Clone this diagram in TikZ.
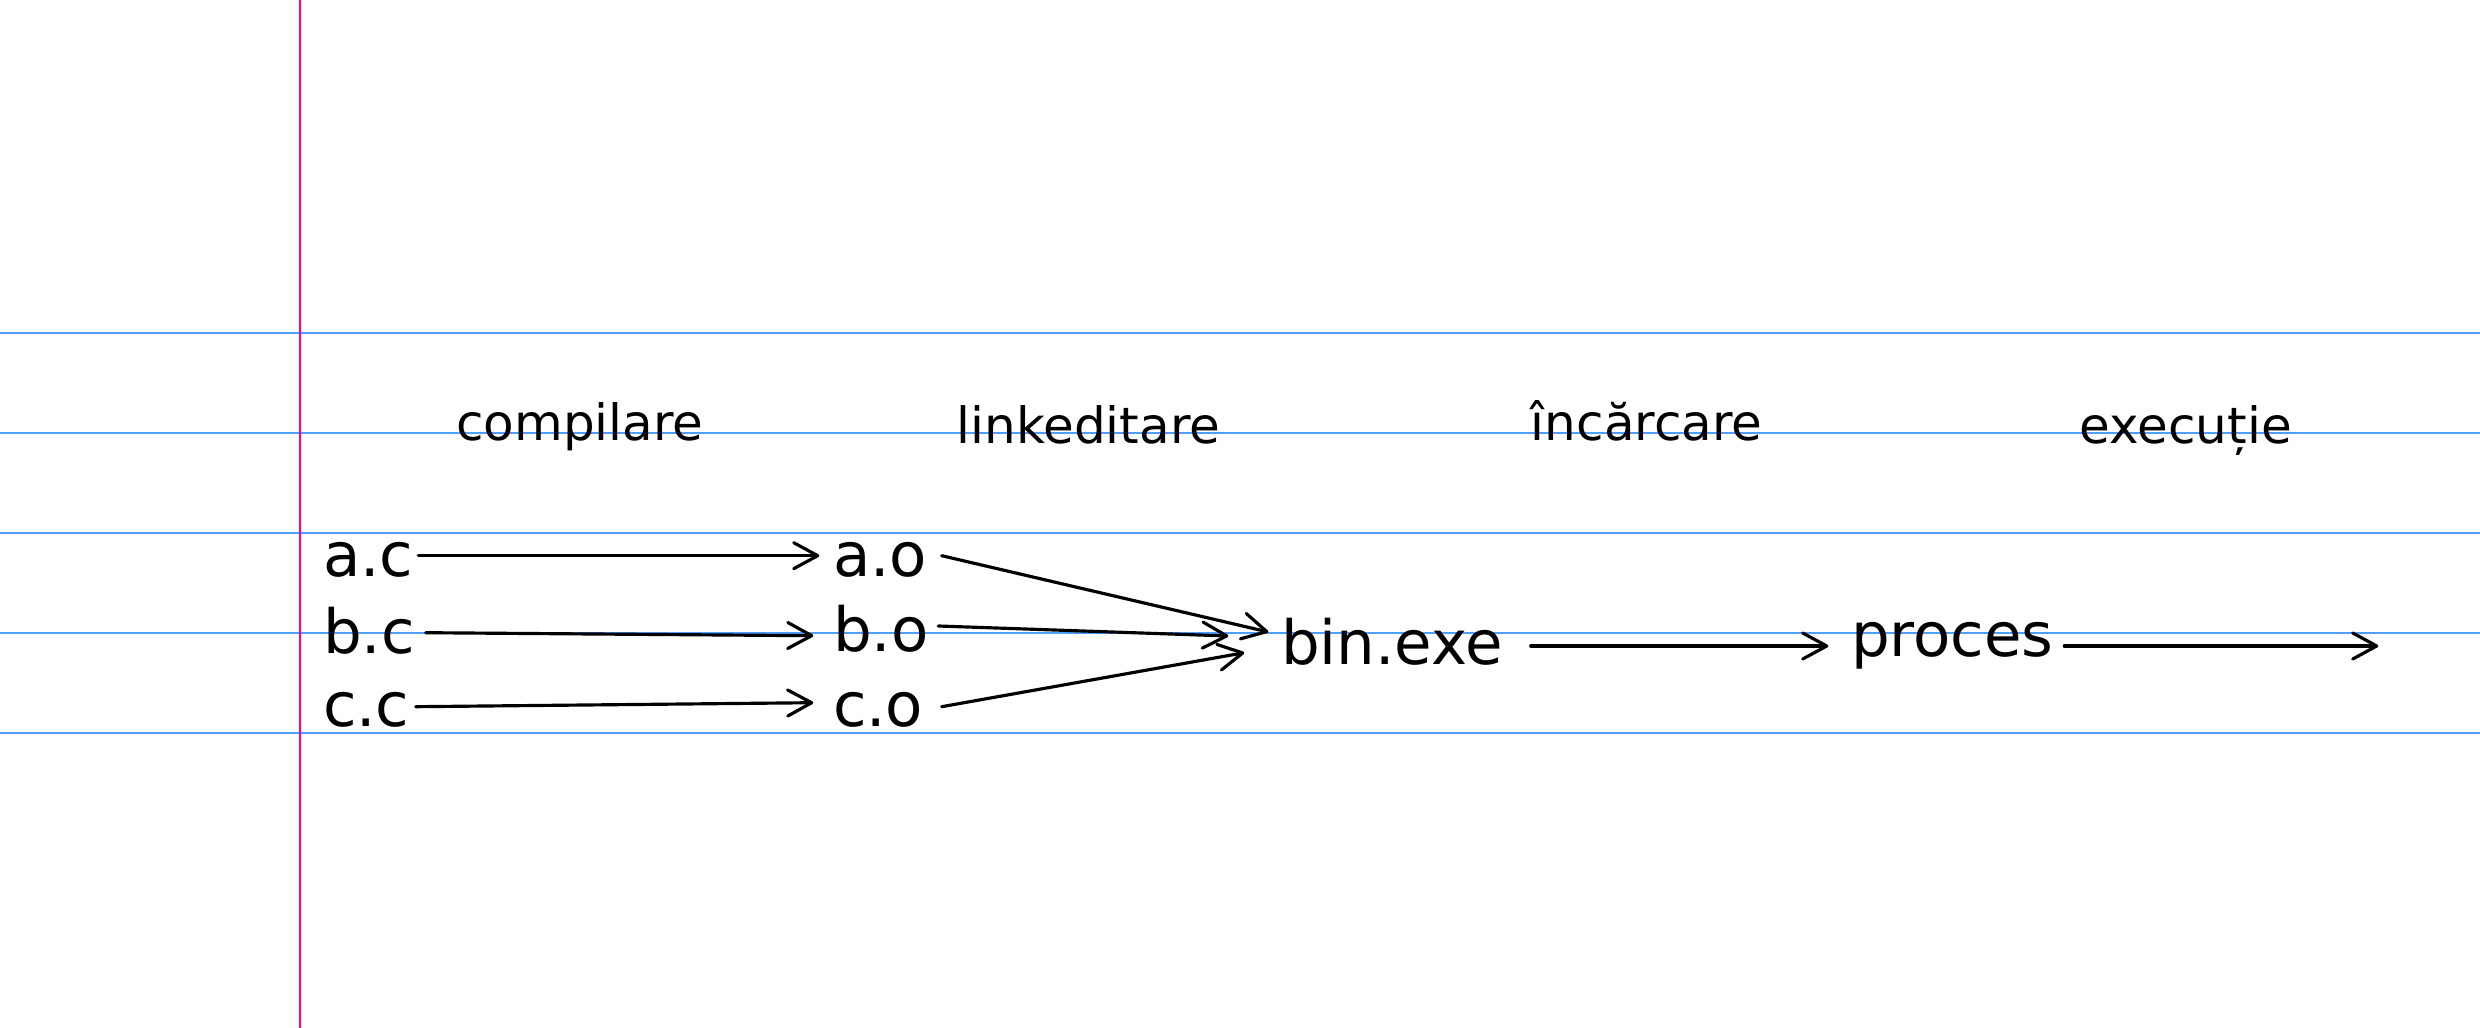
\documentclass[tikz,border=0pt]{standalone}
\usepackage{fontspec}
\setmainfont{DejaVu Sans}
\usetikzlibrary{arrows.meta,calc}
\definecolor{ruleblue}{RGB}{77,160,255}
\definecolor{marginpink}{RGB}{255,0,128}
\tikzset{
  rule/.style={draw=ruleblue,line width=0.55pt},
  margin/.style={draw=marginpink,line width=0.65pt},
  file/.style={inner sep=0pt,outer sep=0pt,anchor=base west,font=\fontsize{18.3pt}{22pt}\selectfont},
  stage/.style={inner sep=0pt,outer sep=0pt,anchor=base,font=\fontsize{15pt}{18pt}\selectfont},
  arr/.style={draw=black,line width=0.95pt,line cap=round,-{Straight Barb[length=7.2pt,width=7.8pt,round]}}
}
\begin{document}
\begin{tikzpicture}[x=0.3pt,y=-0.3pt]
\useasboundingbox (0,0) rectangle (2480,1028);
\fill[white] (0,0) rectangle (2480,1028);
% ruled paper
\foreach \yy in {333.3,433.3,533.3,633.3,733.3}
  \draw[rule] (0,\yy) -- (2480,\yy);
\draw[margin] (300,0) -- (300,1028);
% stage labels
\node[stage] (lcomp) at (580,440.7) {compilare};
\node[stage] (llink) at (1088.5,443.3) {linkeditare};
\node[stage] (lload) at (1646.7,440.7) {încărcare};
\node[stage] (lexec) at (2185.7,443.3) {execuție};
% files
\node[file] (ac) at (323,576.7) {a.c};
\node[file] (bc) at (323,653.3) {b.c};
\node[file] (cc) at (323,726.7) {c.c};
\node[file] (ao) at (833,576.7) {a.o};
\node[file] (bo) at (833,651.7) {b.o};
\node[file] (co) at (833,726) {c.o};
\node[file] (bin) at (1281,664.3) {bin.exe};
\node[file] (proc) at (1851,656.7) {proces};
\coordinate (out) at (2378.3,646);
% connectors
\draw[arr] ($(ac.base west)+(95.3,-21)$) -- ($(ao.base west)+(-13.7,-21)$);
\draw[arr] ($(bc.base west)+(102.7,-20.6)$) -- ($(bo.base west)+(-19.7,-16)$);
\draw[arr] ($(cc.base west)+(92.7,-20)$) -- ($(co.base west)+(-19.7,-23.3)$);
\draw[arr] ($(ao.base west)+(108.7,-21)$) -- ($(bin.base west)+(-12.7,-32.3)$);
\draw[arr] ($(bo.base west)+(105.3,-25.7)$) -- ($(bin.base west)+(-52.7,-28.3)$);
\draw[arr] ($(co.base west)+(108.7,-19.3)$) -- ($(bin.base west)+(-36.7,-11.6)$);
\draw[arr] ($(bin.base west)+(249.7,-18.3)$) -- ($(proc.base west)+(-22.7,-10.7)$);
\draw[arr] ($(proc.base west)+(213.3,-10.7)$) -- (out);
\end{tikzpicture}
\end{document}
